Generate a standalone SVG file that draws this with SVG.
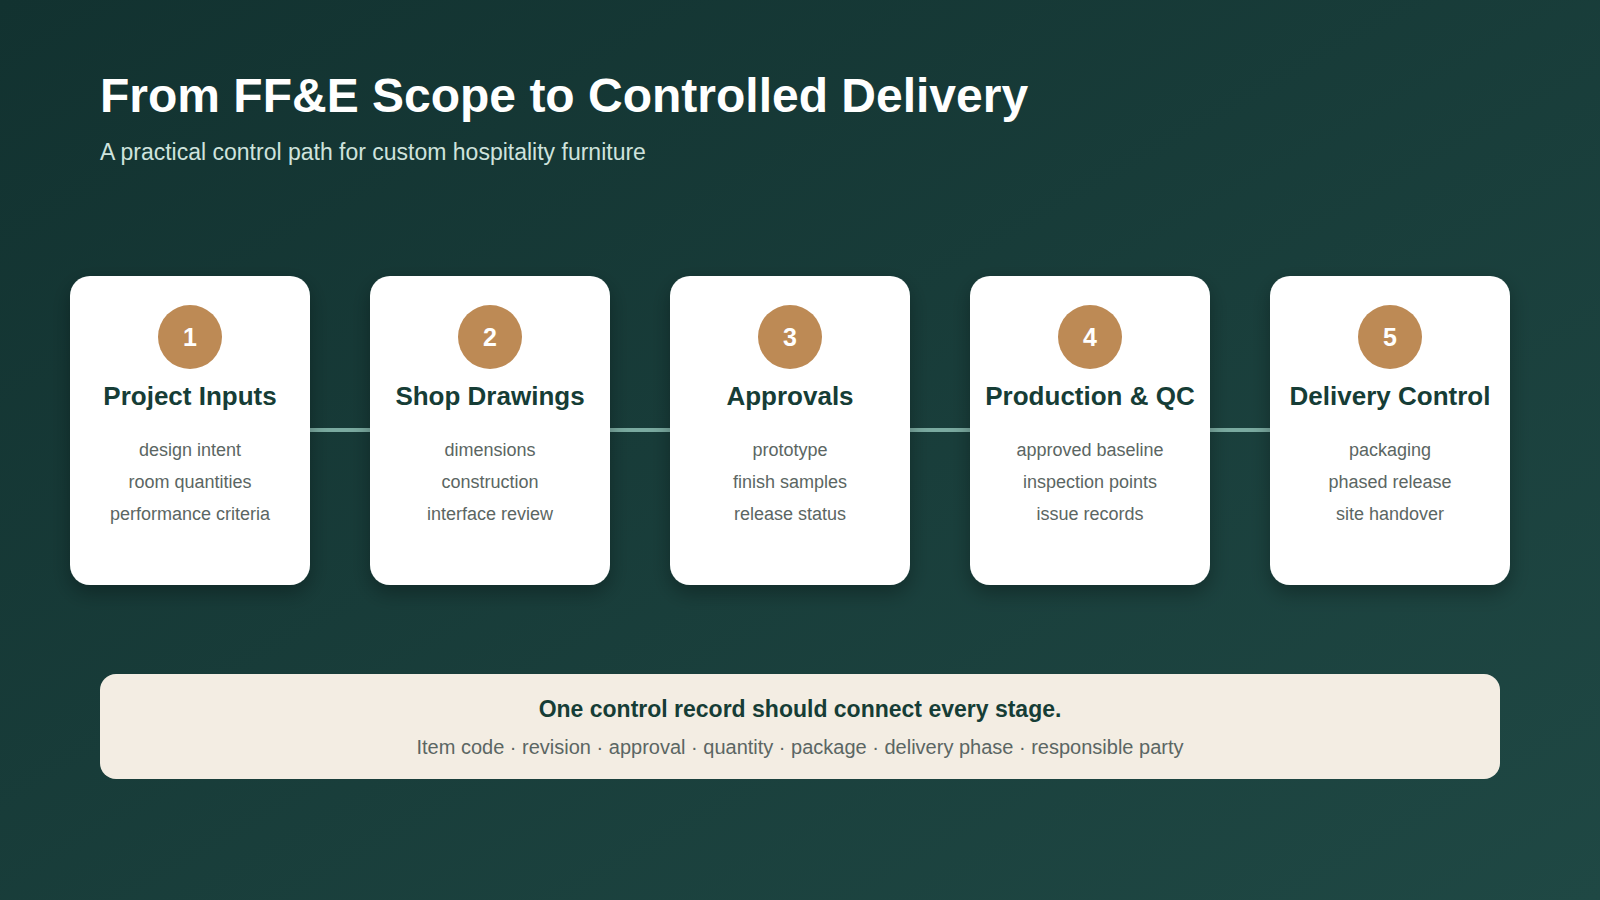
<svg xmlns="http://www.w3.org/2000/svg" width="1600" height="900" viewBox="0 0 1600 900">
<defs>
<linearGradient id="bg" x1="0" y1="0" x2="1" y2="1"><stop offset="0" stop-color="#123230"/><stop offset="1" stop-color="#1f4844"/></linearGradient>
<filter id="sh" x="-20%" y="-20%" width="140%" height="140%"><feDropShadow dx="0" dy="8" stdDeviation="10" flood-color="#000" flood-opacity="0.3"/></filter>
<style>
.card{fill:#fff;filter:url(#sh)}
.num{fill:#bd8a55}
.nt{font:bold 25px "Liberation Sans",Arial,sans-serif;fill:#fff;text-anchor:middle}
.ti{font:bold 26px "Liberation Sans",Arial,sans-serif;fill:#163d36;text-anchor:middle}
.bd{font:18px "Liberation Sans",Arial,sans-serif;fill:#5b6663;text-anchor:middle}
.ln{stroke:#7aaaa0;stroke-width:4}
</style>
</defs>
<rect width="1600" height="900" fill="url(#bg)"/>
<text x="100" y="112" font-family="Liberation Sans,Arial,sans-serif" font-weight="bold" font-size="48" fill="#fff">From FF&amp;E Scope to Controlled Delivery</text>
<text x="100" y="160" font-family="Liberation Sans,Arial,sans-serif" font-size="23" fill="#cfe3dd">A practical control path for custom hospitality furniture</text>
<g id="connectors">
<line class="ln" x1="310" y1="430" x2="370" y2="430"/>
<line class="ln" x1="610" y1="430" x2="670" y2="430"/>
<line class="ln" x1="910" y1="430" x2="970" y2="430"/>
<line class="ln" x1="1210" y1="430" x2="1270" y2="430"/>
</g>
<g id="n1"><rect class="card" x="70" y="276" width="240" height="309" rx="20"/><circle class="num" cx="190" cy="337" r="32"/><text class="nt" x="190" y="346">1</text><text class="ti" x="190" y="405">Project Inputs</text><text class="bd" x="190" y="456">design intent</text><text class="bd" x="190" y="488">room quantities</text><text class="bd" x="190" y="520">performance criteria</text></g>
<g id="n2"><rect class="card" x="370" y="276" width="240" height="309" rx="20"/><circle class="num" cx="490" cy="337" r="32"/><text class="nt" x="490" y="346">2</text><text class="ti" x="490" y="405">Shop Drawings</text><text class="bd" x="490" y="456">dimensions</text><text class="bd" x="490" y="488">construction</text><text class="bd" x="490" y="520">interface review</text></g>
<g id="n3"><rect class="card" x="670" y="276" width="240" height="309" rx="20"/><circle class="num" cx="790" cy="337" r="32"/><text class="nt" x="790" y="346">3</text><text class="ti" x="790" y="405">Approvals</text><text class="bd" x="790" y="456">prototype</text><text class="bd" x="790" y="488">finish samples</text><text class="bd" x="790" y="520">release status</text></g>
<g id="n4"><rect class="card" x="970" y="276" width="240" height="309" rx="20"/><circle class="num" cx="1090" cy="337" r="32"/><text class="nt" x="1090" y="346">4</text><text class="ti" x="1090" y="405">Production &amp; QC</text><text class="bd" x="1090" y="456">approved baseline</text><text class="bd" x="1090" y="488">inspection points</text><text class="bd" x="1090" y="520">issue records</text></g>
<g id="n5"><rect class="card" x="1270" y="276" width="240" height="309" rx="20"/><circle class="num" cx="1390" cy="337" r="32"/><text class="nt" x="1390" y="346">5</text><text class="ti" x="1390" y="405">Delivery Control</text><text class="bd" x="1390" y="456">packaging</text><text class="bd" x="1390" y="488">phased release</text><text class="bd" x="1390" y="520">site handover</text></g>
<g id="record"><rect x="100" y="674" width="1400" height="105" rx="16" fill="#f3ede3"/>
<text x="800" y="717" text-anchor="middle" font-family="Liberation Sans,Arial,sans-serif" font-weight="bold" font-size="23" fill="#163d36">One control record should connect every stage.</text>
<text x="800" y="754" text-anchor="middle" font-family="Liberation Sans,Arial,sans-serif" font-size="20" fill="#5b6663">Item code · revision · approval · quantity · package · delivery phase · responsible party</text></g>
</svg>
